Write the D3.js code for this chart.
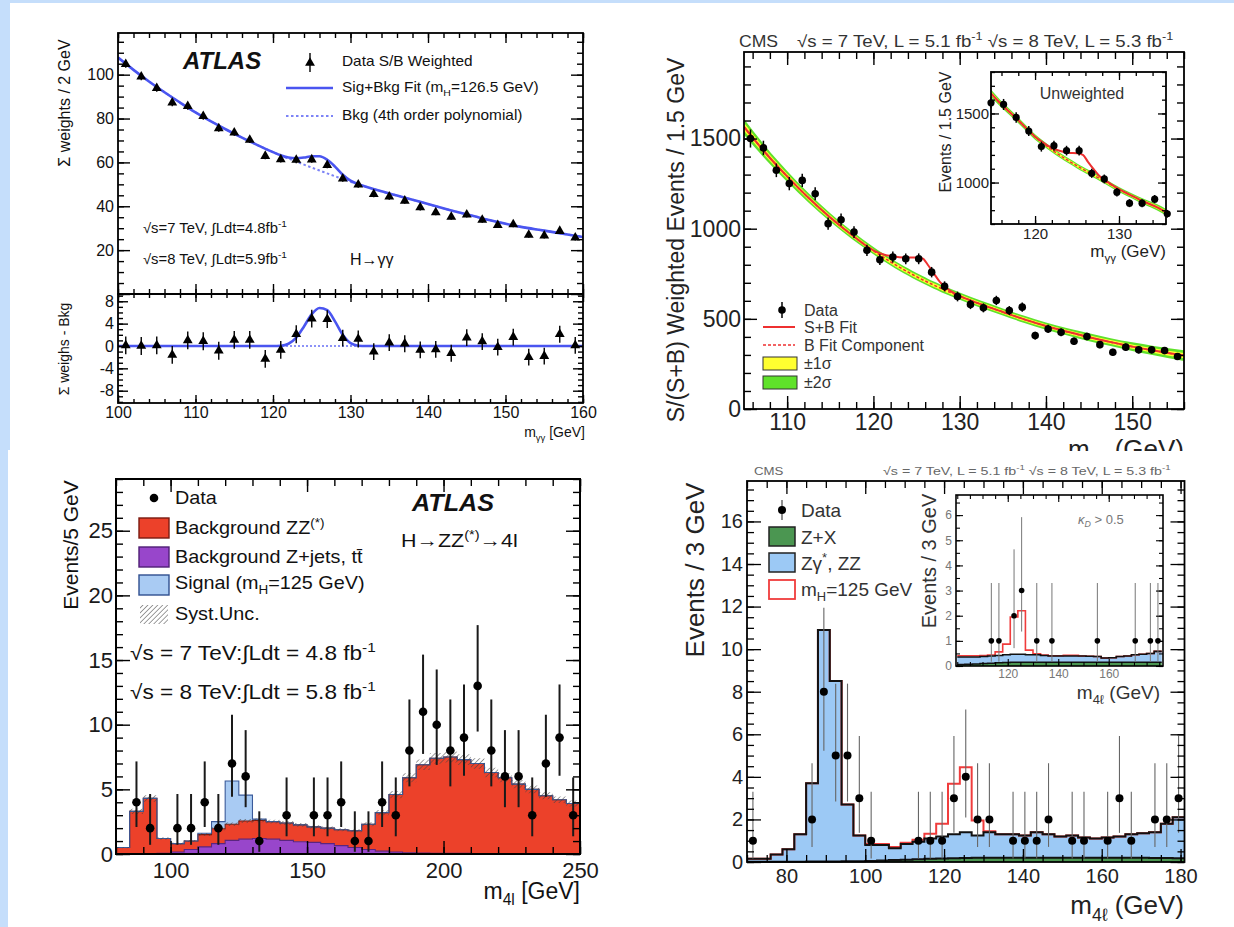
<!DOCTYPE html>
<html><head><meta charset="utf-8">
<script src="https://cdn.jsdelivr.net/npm/d3@7"></script>
<style>html,body{margin:0;padding:0;background:#c5defb;} svg{display:block;}</style>
</head><body><svg id="c" width="1234" height="927"></svg>
<script>
// ---------------- Panel A: ATLAS H->gamma gamma (weighted) ----------------
const aMass = [101,103,105,107,109,111,113,115,117,119,121,123,125,127,129,131,133,135,137,139,141,143,145,147,149,151,153,155,157,159];
const aWeights = [104.8,99.1,93.8,87.2,85.6,81.1,75.5,73.6,70.3,62.9,61.4,61.1,61.3,58.7,52.6,49.8,45.5,44.4,42.5,39.5,37.2,35.1,36.2,33.8,31.4,31.7,26.9,26.6,28.7,25.7];
const aErr = [1.7,1.7,1.6,1.6,1.6,1.6,1.5,1.5,1.5,1.5,1.5,1.5,1.5,1.4,1.4,1.4,1.4,1.4,1.4,1.4,1.3,1.3,1.3,1.3,1.3,1.3,1.3,1.3,1.3,1.3];
const aCurveX = [100,102,104,106,108,110,112,114,116,118,120,121,122,123,124,125,126,127,128,129,130,131,132,134,136,138,140,143,146,149,152,155,158,160];
const aBkg = [107.8,102.2,96.9,92.0,87.3,82.8,78.7,74.9,71.3,67.9,64.7,63.2,61.8,60.4,59.0,57.6,56.3,55.0,53.7,52.4,51.2,50.0,48.9,46.8,44.9,43.0,41.0,38.1,35.4,32.8,30.6,28.9,27.1,26.0];
const aSigBkg = [107.8,102.2,96.9,92.0,87.3,82.8,78.7,74.9,71.3,67.9,64.7,63.25,62.2,61.9,62.2,62.8,62.8,61.2,58.1,54.4,51.7,50.05,48.9,46.8,44.9,43.0,41.0,38.1,35.4,32.8,30.6,28.9,27.1,26.0];
const aResid = [0.1,0,0.1,-1.6,1.0,0.85,-0.85,1.1,1.1,-2.3,-0.7,2.1,4.9,4.8,1.4,1.25,-1.0,0.6,0.4,-0.7,-0.6,-1.3,1.5,0.8,-0.2,1.6,-2.0,-1.8,2.1,0.1];
const aResErr = [1.6,1.6,1.6,1.6,1.6,1.6,1.6,1.6,1.6,1.6,1.6,1.6,1.6,1.6,1.5,1.5,1.5,1.5,1.5,1.5,1.5,1.5,1.5,1.5,1.5,1.5,1.5,1.5,1.5,1.5];
const aResFitX = [100,120,121,122,123,124,125,126,127,128,129,130,131,132,160];
const aResFit = [0,0,0.05,0.4,1.5,3.5,5.7,6.8,6.4,4.4,2.0,0.5,0.05,0,0];
const aYLabels = [20,40,60,80,100];
const aXLabels = [100,110,120,130,140,150,160];
const aResLabels = [-8,-4,0,4,8];

// ---------------- Panel B: CMS H->gamma gamma (S/(S+B) weighted) ----------------
const bMass = [105.75,107.25,108.75,110.25,111.75,113.25,114.75,116.25,117.75,119.25,120.75,122.25,123.75,125.25,126.75,128.25,129.75,131.25,132.75,134.25,135.75,137.25,138.75,140.25,141.75,143.25,144.75,146.25,147.75,149.25,150.75,152.25,153.75,155.25];
const bEvents = [1500,1448,1324,1250,1268,1194,1028,1050,981,880,828,843,833,833,759,680,624,580,561,602,546,565,407,444,426,376,402,357,315,343,328,328,324,291];
const bErr = [50,40,38,37,37,36,34,34,33,31,30,31,30,30,29,28,27,26,25,26,25,25,22,23,22,21,21,20,19,20,19,19,19,18];
const bCurveX = [105,107.5,110,112.5,115,117.5,120,121,122,123,124,125,125.7,126.3,127,127.7,128.3,129,130,132.5,135,137.5,140,142.5,145,147.5,150,152.5,156];
const bBkg = [1565,1420,1290,1170,1062,965,878,846,816,787,760,734,717,703,687,672,659,645,626,580,538,497,460,428,398,371,346,324,296];
const bSB = [1565,1420,1290,1170,1062,965,880,860,848,842,840,840,835,800,752,705,678,652,627,580,538,497,460,428,398,371,346,324,296];
const bBand1 = [22,18,15,13,12,11,10,10,10,10,10,10,10,10,10,10,10,10,10,10,10,10,10,10,11,11,12,13,15];
const bBand2 = [44,36,30,26,24,22,20,20,20,20,20,20,20,20,20,20,20,20,20,20,20,20,20,20,22,22,24,26,30];
const bYLabels = [0,500,1000,1500];
const bXLabels = [110,120,130,140,150];
const biMass = [114.75,116.25,117.75,119.25,120.75,122.25,123.75,125.25,126.75,128.25,129.75,131.25,132.75,134.25,135.75];
const biEvents = [1577,1565,1471,1373,1260,1267,1231,1231,1067,1026,930,851,851,880,774];
const biErr = [40,40,38,37,36,36,35,35,33,32,31,29,29,30,28];
const biCurveX = [114.75,116,117.5,119,120,121,122,123,124,125,125.7,126.3,127,127.7,128.5,130,131.5,133,134.5,135.6];
const biBkg = [1645,1565,1480,1390,1330,1282,1237,1195,1157,1120,1096,1076,1052,1029,1002,950,905,861,822,785];
const biSB = [1645,1565,1480,1390,1332,1288,1250,1228,1216,1212,1200,1150,1095,1045,1010,952,905,861,822,785];
const biBand1 = [14,12,11,10,10,9,9,9,9,9,9,9,9,9,9,9,9,10,11,12];
const biBand2 = [28,24,22,20,20,18,18,18,18,18,18,18,18,18,18,18,18,20,22,24];
const biYLabels = [1000,1500];
const biXLabels = [120,130];

// ---------------- Panel C: ATLAS H->ZZ->4l ----------------
const cBinLo = [80,85,90,95,100,105,110,115,120,125,130,135,140,145,150,155,160,165,170,175,180,185,190,195,200,205,210,215,220,225,230,235,240,245];
const cZjets = [0.02,0.02,0.02,0.05,0.15,0.35,0.55,0.8,1.05,1.15,1.2,1.15,1.05,0.95,0.9,0.8,0.65,0.5,0.35,0.22,0.15,0.1,0.07,0.06,0.05,0.05,0.04,0.04,0.03,0.03,0.03,0.02,0.02,0.02];
const cZZ = [0.48,3.28,4.28,1.15,0.65,0.65,0.95,1.15,1.25,1.4,1.4,1.35,1.35,1.3,1.2,1.2,1.22,1.3,1.95,2.98,4.45,5.8,6.83,7.34,7.45,7.25,6.96,6.26,5.87,5.37,4.97,4.48,4.18,3.88];
const cSignal = [0,0,0,0,0,0,0.1,0.55,3.35,2.0,0.1,0,0,0,0,0,0,0,0,0,0,0,0,0,0,0,0,0,0,0,0,0,0,0];
const cUnc = [0.05,0.2,0.25,0.1,0.08,0.08,0.1,0.12,0.14,0.15,0.15,0.15,0.15,0.14,0.13,0.13,0.12,0.12,0.15,0.2,0.28,0.35,0.4,0.42,0.43,0.42,0.4,0.37,0.35,0.32,0.3,0.27,0.25,0.23];
const cDataX = [87.5,92.5,102.5,107.5,112.5,117.5,122.5,127.5,132.5,142.5,152.5,157.5,162.5,167.5,172.5,177.5,182.5,187.5,192.5,197.5,202.5,207.5,212.5,217.5,222.5,227.5,232.5,237.5,242.5,247.5];
const cDataN = [4,2,2,2,4,2,7,6,1,3,3,3,4,1,1,4,3,8,11,10,8,9,13,8,6,6,3,7,9,3];
const cErrLo = [2.09,0.71,0.71,0.71,2.09,0.71,4.42,3.62,0.17,1.37,1.37,1.37,2.09,0.17,0.17,2.09,1.37,5.23,7.74,6.89,5.23,6.05,9.47,5.23,3.62,3.62,1.37,4.42,6.05,1.37];
const cErrHi = [7.16,4.64,4.64,4.64,7.16,4.64,10.77,9.58,3.30,5.92,5.92,5.92,7.16,3.30,3.30,7.16,5.92,11.95,15.42,14.27,11.95,13.11,17.70,11.95,9.58,9.58,5.92,10.77,13.11,5.92];
const cYLabels = [0,5,10,15,20,25];
const cXLabels = [100,150,200,250];

// ---------------- Panel D: CMS H->ZZ->4l ----------------
const dBinLo = [70,73,76,79,82,85,88,91,94,97,100,103,106,109,112,115,118,121,124,127,130,133,136,139,142,145,148,151,154,157,160,163,166,169,172,175,178];
const dZX = [0.01,0.01,0.01,0.01,0.01,0.02,0.02,0.02,0.03,0.04,0.05,0.07,0.09,0.11,0.13,0.15,0.17,0.18,0.19,0.2,0.2,0.2,0.2,0.2,0.2,0.2,0.2,0.2,0.2,0.2,0.2,0.2,0.2,0.2,0.19,0.19,0.18];
const dZZ = [0.14,0.14,0.34,0.59,1.29,3.68,10.88,8.48,2.67,1.21,0.75,0.73,0.56,0.74,0.82,0.95,1.03,1.12,1.21,1.05,1.2,1.1,1.1,1.05,1.2,1.1,1.0,1.05,0.95,0.9,0.95,1.0,1.1,1.15,1.21,1.61,1.92];
const dSig = [0,0,0,0,0,0,0,0,0,0,0.05,0.05,0.05,0.05,0.1,0.23,0.6,2.38,3.05,0.7,0.05,0,0,0,0,0,0,0,0,0,0,0,0,0,0,0,0];
const dDataX = [71.5,86.5,89.5,92.5,95.5,98.5,101.5,113.5,116.5,119.5,122.5,125.5,128.5,131.5,137.5,140.5,143.5,146.5,152.5,155.5,161.5,164.5,167.5,173.5,176.5,179.5];
const dDataN = [1,2,8,5,5,3,1,1,1,1,3,4,2,2,1,1,1,2,1,1,1,3,1,2,2,3];
const dErrLo = [0.17,0.71,5.23,2.84,2.84,1.37,0.17,0.17,0.17,0.17,1.37,2.09,0.71,0.71,0.17,0.17,0.17,0.71,0.17,0.17,0.17,1.37,0.17,0.71,0.71,1.37];
const dErrHi = [3.30,4.64,11.95,8.38,8.38,5.92,3.30,3.30,3.30,3.30,5.92,7.16,4.64,4.64,3.30,3.30,3.30,4.64,3.30,3.30,3.30,5.92,3.30,4.64,4.64,5.92];
const dYLabels = [0,2,4,6,8,10,12,14,16];
const dXLabels = [80,100,120,140,160,180];
const diBinLo = [100,103,106,109,112,115,118,121,124,127,130,133,136,139,142,145,148,151,154,157,160,163,166,169,172,175,178];
const diZX = [0.06,0.07,0.08,0.1,0.11,0.13,0.14,0.15,0.15,0.15,0.15,0.15,0.15,0.15,0.15,0.15,0.15,0.15,0.15,0.15,0.15,0.15,0.15,0.15,0.15,0.15,0.15];
const diZZ = [0.30,0.29,0.28,0.28,0.29,0.29,0.31,0.32,0.32,0.30,0.30,0.27,0.25,0.25,0.25,0.25,0.25,0.24,0.23,0.17,0.18,0.23,0.25,0.30,0.32,0.35,0.43];
const diSig = [0.05,0.05,0.05,0.04,0.04,0.14,0.42,1.48,1.73,0.18,0.04,0.02,0.01,0.01,0.03,0.03,0,0,0,0,0,0,0,0,0,0,0];
const diDataX = [113.5,116.5,122.5,125.5,131.5,137.5,155.5,170.5,176.5,179.5];
const diDataN = [1,1,2,3,1,1,1,1,1,1];
const diErrLo = [0.17,0.17,0.71,1.37,0.17,0.17,0.17,0.17,0.17,0.17];
const diErrHi = [3.30,3.30,4.64,5.92,3.30,3.30,3.30,3.30,3.30,3.30];
const diYLabels = [0,1,2,3,4,5,6];
const diXLabels = [120,140,160];

// =====================================================================
const FONT = "'Liberation Sans', Arial, Helvetica, sans-serif";
const svg = d3.select('#c');
svg.append('rect').attr('width',1234).attr('height',927).attr('fill','#c5defb');
svg.append('rect').attr('x',10).attr('y',3).attr('width',1224).attr('height',450).attr('fill','#fff');
svg.append('rect').attr('x',8).attr('y',450).attr('width',1226).attr('height',477).attr('fill','#fff');
const defs = svg.append('defs');
const hatch = defs.append('pattern').attr('id','hatch').attr('width',3.5).attr('height',3.5)
  .attr('patternUnits','userSpaceOnUse').attr('patternTransform','rotate(45)');
hatch.append('line').attr('x1',0).attr('y1',0).attr('x2',0).attr('y2',3.5).attr('stroke','#444').attr('stroke-width',1.3);
function clip(id, x, y, w, h) { defs.append('clipPath').attr('id', id).append('rect').attr('x',x).attr('y',y).attr('width',w).attr('height',h); return `url(#${id})`; }

function txt(g, x, y, parts, o = {}) {
  const fs = o.fs || 14;
  const t = g.append('text').attr('x', x).attr('y', y + 0.35 * fs)
    .attr('font-family', FONT).attr('font-size', fs).attr('fill', o.fill || '#111')
    .attr('text-anchor', o.anchor || 'start');
  if (o.weight) t.attr('font-weight', o.weight);
  if (o.style) t.attr('font-style', o.style);
  if (o.rotate) t.attr('transform', `rotate(-90,${x},${y})`);
  else if (o.sx) t.attr('transform', `translate(${x},0) scale(${o.sx},1) translate(${-x},0)`);
  if (typeof parts === 'string') parts = [[parts, '']];
  let shift = 0;
  parts.forEach(([s, m, st]) => {
    const target = m === 'sub' ? 0.28 * fs : m === 'sup' ? -0.42 * fs : 0;
    const ts = t.append('tspan').text(s);
    if (target - shift !== 0) ts.attr('dy', target - shift);
    if (m) ts.attr('font-size', fs * 0.68);
    if (st) ts.attr('font-style', st);
    shift = target;
  });
  return t;
}

function ticks(g, x, y, o) {
  const [xa, xb] = x.range(), [ya, yb] = y.range();
  const mk = (axis, tr, vals, len, fmt, pad) => {
    const a = g.append('g').attr('transform', tr)
      .call(axis.tickValues(vals).tickSize(-len).tickPadding(pad || 3).tickFormat(fmt || (() => '')));
    a.select('.domain').remove();
    a.selectAll('line').attr('stroke', '#000').attr('stroke-width', o.tw || 1.2);
    a.attr('font-family', FONT).attr('font-size', o.fs || 12);
    a.selectAll('text').attr('fill', o.col || '#111');
    return a;
  };
  const xl = o.xLab ? (d => o.xLab.includes(d) ? d : '') : null;
  const yl = o.yLab ? (d => o.yLab.includes(d) ? d : '') : null;
  if (o.bottom !== false) {
    mk(d3.axisBottom(x), `translate(0,${ya})`, o.xMaj, o.xL, xl, o.xPad);
    mk(d3.axisBottom(x), `translate(0,${ya})`, o.xMin, o.xl);
  }
  if (o.top !== false) {
    mk(d3.axisTop(x), `translate(0,${yb})`, o.xMaj, o.xL);
    mk(d3.axisTop(x), `translate(0,${yb})`, o.xMin, o.xl);
  }
  mk(d3.axisLeft(y), `translate(${xa},0)`, o.yMaj, o.yL, yl, o.yPad);
  mk(d3.axisLeft(y), `translate(${xa},0)`, o.yMin, o.yl);
  if (o.right !== false) {
    mk(d3.axisRight(y), `translate(${xb},0)`, o.yMaj, o.yL);
    mk(d3.axisRight(y), `translate(${xb},0)`, o.yMin, o.yl);
  }
}
function frame(g, x, y, w) {
  const [xa, xb] = x.range(), [ya, yb] = y.range();
  g.append('rect').attr('x', xa).attr('y', yb).attr('width', xb - xa).attr('height', ya - yb)
    .attr('fill', 'none').attr('stroke', '#000').attr('stroke-width', w || 1.6);
}
function stepPts(lo, w, y0s, y1s) {
  const pts = lo.map((x, i) => ({ x, y0: y0s[i], y1: y1s[i] }));
  const L = pts[pts.length - 1];
  pts.push({ x: L.x + w, y0: L.y0, y1: L.y1 });
  return pts;
}

// ======================= PANEL A =======================
{
  const g = svg.append('g');
  const x = d3.scaleLinear().domain([100,160]).range([118,583]);
  const y = d3.scaleLinear().domain([0,119]).range([294,33]);
  const yr = d3.scaleLinear().domain([-10.2,9.3]).range([403,294]);
  const cA = clip('clipA', 118, 33, 465, 261), cAr = clip('clipAr', 118, 294, 465, 109);
  const line = d3.line().x(d => x(d[0])).y(d => y(d[1])).curve(d3.curveMonotoneX);
  const liner = d3.line().x(d => x(d[0])).y(d => yr(d[1])).curve(d3.curveMonotoneX);
  g.append('path').datum(d3.zip(aCurveX, aBkg)).attr('d', line).attr('fill','none')
    .attr('stroke','#7c83f6').attr('stroke-width',2).attr('stroke-dasharray','2.5,2.5').attr('clip-path', cA);
  g.append('path').datum(d3.zip(aCurveX, aSigBkg)).attr('d', line).attr('fill','none')
    .attr('stroke','#4a55f0').attr('stroke-width',2.6).attr('clip-path', cA);
  const tri = d3.symbol().type(d3.symbolTriangle).size(42)();
  aMass.forEach((m, i) => {
    g.append('line').attr('x1', x(m)).attr('x2', x(m)).attr('y1', y(aWeights[i] - aErr[i])).attr('y2', y(aWeights[i] + aErr[i]))
      .attr('stroke','#000').attr('stroke-width',1.4);
  });
  g.selectAll('path.tri').data(d3.zip(aMass, aWeights)).join('path').attr('class','tri').attr('d', tri)
    .attr('transform', d => `translate(${x(d[0])},${y(d[1])})`).attr('fill','#000');
  g.append('line').attr('x1', x(100)).attr('x2', x(160)).attr('y1', yr(0)).attr('y2', yr(0))
    .attr('stroke','#8c92f7').attr('stroke-width',2).attr('stroke-dasharray','2,2');
  g.append('path').datum(d3.zip(aResFitX, aResFit)).attr('d', liner).attr('fill','none')
    .attr('stroke','#4a55f0').attr('stroke-width',2.6).attr('clip-path', cAr);
  aMass.forEach((m, i) => {
    g.append('line').attr('x1', x(m)).attr('x2', x(m)).attr('y1', yr(aResid[i] - aResErr[i])).attr('y2', yr(aResid[i] + aResErr[i]))
      .attr('stroke','#000').attr('stroke-width',1.4);
  });
  g.selectAll('path.trir').data(d3.zip(aMass, aResid)).join('path').attr('class','trir').attr('d', tri)
    .attr('transform', d => `translate(${x(d[0])},${yr(d[1])})`).attr('fill','#000');
  frame(g, x, y, 1.8); frame(g, x, yr, 1.8);
  ticks(g, x, y, { xMaj: d3.range(100,161,10), xMin: d3.range(100,161,2), xL: 10, xl: 5, bottom: true,
    yMaj: d3.range(0,101,20), yMin: d3.range(0,119,5), yL: 12, yl: 6, yLab: aYLabels, yPad: 4, fs: 16, tw: 1.4 });
  ticks(g, x, yr, { xMaj: d3.range(100,161,10), xMin: d3.range(100,161,2), xL: 8, xl: 4, xLab: aXLabels, xPad: 4,
    yMaj: d3.range(-8,9,4), yMin: d3.range(-10,9.3,1), yL: 10, yl: 5, yLab: aResLabels, yPad: 4, fs: 16, tw: 1.4 });
  txt(g, 64, 103, 'Σ weights / 2 GeV', { fs: 16, rotate: true, anchor: 'middle' });
  txt(g, 64, 349, 'Σ weighs - Bkg', { fs: 14, rotate: true, anchor: 'middle' });
  txt(g, 585, 432, [['m',''],['γγ','sub'],[' [GeV]','']], { fs: 14, anchor: 'end' });
  txt(g, 183, 61, 'ATLAS', { fs: 24, weight: 'bold', style: 'italic' });
  g.append('line').attr('x1',310).attr('x2',310).attr('y1',53).attr('y2',72).attr('stroke','#000').attr('stroke-width',1.4);
  g.append('path').attr('d', tri).attr('transform','translate(310,63)').attr('fill','#000');
  txt(g, 342, 61, 'Data S/B Weighted', { fs: 14, sx: 1.1 });
  g.append('line').attr('x1',286).attr('x2',333).attr('y1',88).attr('y2',88).attr('stroke','#4a55f0').attr('stroke-width',2.6);
  txt(g, 342, 87, [['Sig+Bkg Fit  (m',''],['H','sub'],['=126.5 GeV)','']], { fs: 14, sx: 1.1 });
  g.append('line').attr('x1',286).attr('x2',333).attr('y1',116).attr('y2',116).attr('stroke','#7c83f6').attr('stroke-width',2).attr('stroke-dasharray','2.5,2.5');
  txt(g, 342, 115, 'Bkg (4th order polynomial)', { fs: 14, sx: 1.1 });
  txt(g, 143, 228, [['√s=7 TeV, ∫Ldt=4.8fb',''],['-1','sup']], { fs: 14, sx: 1.06 });
  txt(g, 143, 259, [['√s=8 TeV, ∫Ldt=5.9fb',''],['-1','sup']], { fs: 14, sx: 1.06 });
  txt(g, 350, 259, 'H→γγ', { fs: 16 });
}

// ======================= PANEL B =======================
{
  const g = svg.append('g');
  const x = d3.scaleLinear().domain([105,156]).range([744,1184]);
  const y = d3.scaleLinear().domain([0,1980]).range([409,52]);
  const cB = clip('clipB', 744, 52, 440, 357);
  const area = d3.area().x((d) => x(d[0])).y0(d => y(d[1] - d[2])).y1(d => y(d[1] + d[2])).curve(d3.curveMonotoneX);
  const line = d3.line().x(d => x(d[0])).y(d => y(d[1])).curve(d3.curveMonotoneX);
  g.append('path').datum(d3.zip(bCurveX, bBkg, bBand2)).attr('d', area).attr('fill','#5fe22a').attr('clip-path', cB);
  g.append('path').datum(d3.zip(bCurveX, bBkg, bBand1)).attr('d', area).attr('fill','#ffff30').attr('clip-path', cB);
  g.append('path').datum(d3.zip(bCurveX, bBkg)).attr('d', line).attr('fill','none').attr('stroke','#ee3030')
    .attr('stroke-width',1.6).attr('stroke-dasharray','3,2').attr('clip-path', cB);
  g.append('path').datum(d3.zip(bCurveX, bSB)).attr('d', line).attr('fill','none').attr('stroke','#ee3030')
    .attr('stroke-width',2).attr('clip-path', cB);
  bMass.forEach((m, i) => {
    g.append('line').attr('x1', x(m)).attr('x2', x(m)).attr('y1', y(bEvents[i] - bErr[i])).attr('y2', y(bEvents[i] + bErr[i]))
      .attr('stroke','#000').attr('stroke-width',1.5);
    g.append('circle').attr('cx', x(m)).attr('cy', y(bEvents[i])).attr('r', 3.8).attr('fill','#000');
  });
  frame(g, x, y, 1.8);
  ticks(g, x, y, { xMaj: bXLabels, xMin: d3.range(106,157,2), xL: 13, xl: 7, xLab: bXLabels, xPad: 5,
    yMaj: d3.range(0,1981,500), yMin: d3.range(0,1981,100), yL: 13, yl: 7, yLab: bYLabels, yPad: 3, fs: 23, tw: 1.4, col: '#222' });
  txt(g, 739, 41, 'CMS', { fs: 16, fill: '#333', sx: 1.1 });
  txt(g, 797, 41, [['√s = 7 TeV, L = 5.1 fb',''],['-1','sup'],[' ',''],['√s = 8 TeV, L = 5.3 fb',''],['-1','sup']], { fs: 16.5, fill: '#333', sx: 1.13 });
  txt(g, 676, 240, 'S/(S+B) Weighted Events / 1.5 GeV', { fs: 23, rotate: true, anchor: 'middle', fill: '#222' });
  const cT = clip('clipBT', 600, 436, 634, 15);
  txt(g, 1184, 449, [['m',''],['γγ','sub'],[' (GeV)','']], { fs: 26, anchor: 'end', fill: '#222' }).attr('clip-path', cT);
  g.append('line').attr('x1',782).attr('x2',782).attr('y1',302).attr('y2',318).attr('stroke','#000').attr('stroke-width',1.5);
  g.append('circle').attr('cx',782).attr('cy',310).attr('r',3.8).attr('fill','#000');
  txt(g, 804, 310, 'Data', { fs: 16, fill: '#333' });
  g.append('line').attr('x1',763).attr('x2',795).attr('y1',327).attr('y2',327).attr('stroke','#ee3030').attr('stroke-width',2);
  txt(g, 804, 327, 'S+B Fit', { fs: 16, fill: '#333' });
  g.append('line').attr('x1',763).attr('x2',795).attr('y1',345).attr('y2',345).attr('stroke','#ee3030').attr('stroke-width',1.6).attr('stroke-dasharray','3,2');
  txt(g, 804, 345, 'B Fit Component', { fs: 16, fill: '#333' });
  g.append('rect').attr('x',763).attr('y',357).attr('width',34).attr('height',13).attr('fill','#ffff30').attr('stroke','#333').attr('stroke-width',1);
  txt(g, 804, 363, '±1σ', { fs: 16, fill: '#333' });
  g.append('rect').attr('x',763).attr('y',376).attr('width',34).attr('height',13).attr('fill','#5fe22a').attr('stroke','#333').attr('stroke-width',1);
  txt(g, 804, 382, '±2σ', { fs: 16, fill: '#333' });
  // inset
  const xi = d3.scaleLinear().domain([114.75,135.6]).range([991,1166]);
  const yi = d3.scaleLinear().domain([700,1800]).range([224,72]);
  g.append('rect').attr('x',991).attr('y',72).attr('width',175).attr('height',152).attr('fill','#fff');
  const cBi = clip('clipBi', 991, 72, 175, 152);
  const areai = d3.area().x(d => xi(d[0])).y0(d => yi(d[1] - d[2])).y1(d => yi(d[1] + d[2])).curve(d3.curveMonotoneX);
  const linei = d3.line().x(d => xi(d[0])).y(d => yi(d[1])).curve(d3.curveMonotoneX);
  g.append('path').datum(d3.zip(biCurveX, biBkg, biBand2)).attr('d', areai).attr('fill','#5fe22a').attr('clip-path', cBi);
  g.append('path').datum(d3.zip(biCurveX, biBkg, biBand1)).attr('d', areai).attr('fill','#ffff30').attr('clip-path', cBi);
  g.append('path').datum(d3.zip(biCurveX, biBkg)).attr('d', linei).attr('fill','none').attr('stroke','#ee3030')
    .attr('stroke-width',1.4).attr('stroke-dasharray','3,2').attr('clip-path', cBi);
  g.append('path').datum(d3.zip(biCurveX, biSB)).attr('d', linei).attr('fill','none').attr('stroke','#ee3030')
    .attr('stroke-width',2).attr('clip-path', cBi);
  biMass.forEach((m, i) => {
    g.append('line').attr('x1', xi(m)).attr('x2', xi(m)).attr('y1', yi(biEvents[i] - biErr[i])).attr('y2', yi(biEvents[i] + biErr[i]))
      .attr('stroke','#000').attr('stroke-width',1.5);
    g.append('circle').attr('cx', xi(m)).attr('cy', yi(biEvents[i])).attr('r', 3.6).attr('fill','#000');
  });
  frame(g, xi, yi, 1.8);
  ticks(g, xi, yi, { xMaj: biXLabels, xMin: d3.range(116,136,2), xL: 8, xl: 4, xLab: biXLabels, xPad: 4,
    yMaj: biYLabels, yMin: d3.range(700,1801,100), yL: 8, yl: 4, yLab: biYLabels, yPad: 2, fs: 15, tw: 1.3, col: '#222' });
  txt(g, 945, 132, 'Events / 1.5 GeV', { fs: 16, rotate: true, anchor: 'middle', fill: '#222' });
  txt(g, 1082, 93, 'Unweighted', { fs: 16, anchor: 'middle', fill: '#333' });
  txt(g, 1166, 251, [['m',''],['γγ','sub'],[' (GeV)','']], { fs: 17, anchor: 'end', fill: '#222' });
}

// ======================= PANEL C =======================
{
  const g = svg.append('g');
  const x = d3.scaleLinear().domain([80,250]).range([116,580]);
  const y = d3.scaleLinear().domain([0,29]).range([854,479]);
  const rows = cBinLo.map((lo, i) => ({ zjets: cZjets[i], zz: cZZ[i], sig: cSignal[i] }));
  const stack = d3.stack().keys(['zjets','zz','sig'])(rows);
  const area = d3.area().x(d => x(d.x)).y0(d => y(d.y0)).y1(d => y(d.y1)).curve(d3.curveStepAfter);
  const line = d3.line().x(d => x(d.x)).y(d => y(d.y1)).curve(d3.curveStepAfter);
  const fills = { zjets: '#9846cb', zz: '#ec412a', sig: '#a9cbf3' };
  const strokes = { zjets: '#5a2580', zz: '#7a1a10', sig: '#3a5a9a' };
  stack.forEach(layer => {
    const pts = stepPts(cBinLo, 5, layer.map(d => d[0]), layer.map(d => d[1]));
    g.append('path').datum(pts).attr('d', area).attr('fill', fills[layer.key]);
  });
  stack.forEach(layer => {
    const pts = stepPts(cBinLo, 5, layer.map(d => d[0]), layer.map(d => d[1]));
    g.append('path').datum(pts).attr('d', line).attr('fill','none').attr('stroke', strokes[layer.key]).attr('stroke-width',1.1);
  });
  const tot = rows.map(r => r.zjets + r.zz);
  const band = stepPts(cBinLo, 5, tot.map((t, i) => t - cUnc[i]), tot.map((t, i) => t + cUnc[i]));
  g.append('path').datum(band).attr('d', area).attr('fill','url(#hatch)').attr('opacity',0.8);
  cDataX.forEach((m, i) => {
    g.append('line').attr('x1', x(m)).attr('x2', x(m)).attr('y1', y(cErrLo[i])).attr('y2', y(Math.min(cErrHi[i], 29)))
      .attr('stroke','#1a1a1a').attr('stroke-width',2);
  });
  cDataX.forEach((m, i) => {
    g.append('circle').attr('cx', x(m)).attr('cy', y(cDataN[i])).attr('r', 4.3).attr('fill','#000');
  });
  frame(g, x, y, 2);
  ticks(g, x, y, { xMaj: cXLabels, xMin: d3.range(80,251,10), xL: 13, xl: 7, xLab: cXLabels, xPad: 8,
    yMaj: cYLabels, yMin: d3.range(0,29.1,1), yL: 14, yl: 7, yLab: cYLabels, yPad: 3, fs: 22, tw: 1.4, col: '#1a1a1a' });
  txt(g, 71, 545, 'Events/5 GeV', { fs: 21, rotate: true, anchor: 'middle' });
  txt(g, 580, 891, [['m',''],['4l','sub'],[' [GeV]','']], { fs: 23, anchor: 'end' });
  txt(g, 412, 503, 'ATLAS', { fs: 24, weight: 'bold', style: 'italic', sx: 1.05 });
  txt(g, 401, 540, [['H→ZZ',''],['(*)','sup'],['→4l','']], { fs: 19, sx: 1.13 });
  txt(g, 130, 653, [['√s = 7 TeV:∫Ldt = 4.8 fb',''],['-1','sup']], { fs: 20, sx: 1.13 });
  txt(g, 130, 692, [['√s = 8 TeV:∫Ldt = 5.8 fb',''],['-1','sup']], { fs: 20, sx: 1.13 });
  g.append('circle').attr('cx',154).attr('cy',498).attr('r',4.3).attr('fill','#000');
  txt(g, 175, 498, 'Data', { fs: 18, sx: 1.1 });
  g.append('rect').attr('x',139).attr('y',518).attr('width',30).attr('height',20).attr('fill','#ec412a').attr('stroke','#7a1a10').attr('stroke-width',1.4);
  txt(g, 175, 528, [['Background ZZ',''],['(*)','sup']], { fs: 18, sx: 1.1 });
  g.append('rect').attr('x',139).attr('y',547).attr('width',30).attr('height',20).attr('fill','#9846cb').attr('stroke','#4f1f75').attr('stroke-width',1.4);
  txt(g, 175, 557, 'Background Z+jets, tt̄', { fs: 18, sx: 1.1 });
  g.append('rect').attr('x',139).attr('y',575).attr('width',30).attr('height',20).attr('fill','#a9cbf3').attr('stroke','#2f4f8f').attr('stroke-width',1.4);
  txt(g, 175, 583, [['Signal (m',''],['H','sub'],['=125 GeV)','']], { fs: 18, sx: 1.1 });
  g.append('rect').attr('x',140).attr('y',605).attr('width',28).attr('height',19).attr('fill','url(#hatch)').attr('opacity',0.8);
  txt(g, 175, 614, 'Syst.Unc.', { fs: 18, sx: 1.1 });
}

// ======================= PANEL D =======================
function cmsHist(g, x, y, lo, zx, zz, sig, w, lw) {
  const rows = lo.map((l, i) => ({ zx: zx[i], zz: zz[i], sig: sig[i] }));
  const st = d3.stack().keys(['zx','zz','sig'])(rows);
  const area = d3.area().x(d => x(d.x)).y0(d => y(d.y0)).y1(d => y(d.y1)).curve(d3.curveStepAfter);
  const line = d3.line().x(d => x(d.x)).y(d => y(d.y1)).curve(d3.curveStepAfter);
  const pts = st.map(layer => stepPts(lo, w, layer.map(d => d[0]), layer.map(d => d[1])));
  g.append('path').datum(pts[0]).attr('d', area).attr('fill','#4b9651');
  g.append('path').datum(pts[1]).attr('d', area).attr('fill','#9cc9f5');
  g.append('path').datum(pts[2]).attr('d', line).attr('fill','none').attr('stroke','#f03c3c').attr('stroke-width', lw);
  g.append('path').datum(pts[0]).attr('d', line).attr('fill','none').attr('stroke','#111').attr('stroke-width', lw);
  g.append('path').datum(pts[1]).attr('d', line).attr('fill','none').attr('stroke','#111').attr('stroke-width', lw);
}
{
  const g = svg.append('g');
  const x = d3.scaleLinear().domain([70,181]).range([747,1184.5]);
  const y = d3.scaleLinear().domain([0,17.9]).range([862,481]);
  cmsHist(g, x, y, dBinLo, dZX, dZZ, dSig, 3, 2);
  dDataX.forEach((m, i) => {
    g.append('line').attr('x1', x(m)).attr('x2', x(m)).attr('y1', y(dErrLo[i])).attr('y2', y(dErrHi[i]))
      .attr('stroke','#666').attr('stroke-width',1.1);
  });
  dDataX.forEach((m, i) => {
    g.append('circle').attr('cx', x(m)).attr('cy', y(dDataN[i])).attr('r', 4).attr('fill','#000');
  });
  frame(g, x, y, 1.8);
  ticks(g, x, y, { xMaj: dXLabels, xMin: d3.range(70,181,5), xL: 13, xl: 7, xLab: dXLabels, xPad: 7,
    yMaj: dYLabels, yMin: d3.range(0,17.9,0.5), yL: 14, yl: 7, yLab: dYLabels, yPad: 4, fs: 20, tw: 1.3, col: '#222' });
  txt(g, 695, 570, 'Events / 3 GeV', { fs: 26, rotate: true, anchor: 'middle', fill: '#222' });
  txt(g, 1184, 905, [['m',''],['4ℓ','sub'],[' (GeV)','']], { fs: 26, anchor: 'end', fill: '#222' });
  txt(g, 754, 471, 'CMS', { fs: 11.5, fill: '#666', sx: 1.15 });
  txt(g, 883, 471, [['√s = 7 TeV, L = 5.1 fb',''],['-1','sup'],['   √s = 8 TeV, L = 5.3 fb',''],['-1','sup']], { fs: 11.5, fill: '#666', sx: 1.24 });
  g.append('line').attr('x1',782).attr('x2',782).attr('y1',500).attr('y2',520).attr('stroke','#333').attr('stroke-width',1.1);
  g.append('circle').attr('cx',782).attr('cy',510).attr('r',4).attr('fill','#000');
  txt(g, 801, 510, 'Data', { fs: 19, fill: '#333' });
  g.append('rect').attr('x',769).attr('y',527).attr('width',26).attr('height',19).attr('fill','#4b9651').attr('stroke','#222').attr('stroke-width',1.5);
  txt(g, 801, 537, 'Z+X', { fs: 19, fill: '#333' });
  g.append('rect').attr('x',769).attr('y',553).attr('width',26).attr('height',19).attr('fill','#9cc9f5').attr('stroke','#222').attr('stroke-width',1.5);
  txt(g, 801, 563, [['Zγ',''],['*','sup'],[', ZZ','']], { fs: 19, fill: '#333' });
  g.append('rect').attr('x',769).attr('y',580).attr('width',26).attr('height',19).attr('fill','#fff').attr('stroke','#f03c3c').attr('stroke-width',1.8);
  txt(g, 801, 589, [['m',''],['H','sub'],['=125 GeV','']], { fs: 19, fill: '#333' });
  const xi = d3.scaleLinear().domain([99.5,181.5]).range([956,1163]);
  const yi = d3.scaleLinear().domain([0,6.8]).range([666,495]);
  g.append('rect').attr('x',956).attr('y',495).attr('width',207).attr('height',171).attr('fill','#fff');
  const gi = g.append('g').attr('clip-path', clip('clipDi', 956, 495, 207, 171));
  cmsHist(gi, xi, yi, diBinLo, diZX, diZZ, diSig, 3, 1.6);
  diDataX.forEach((m, i) => {
    gi.append('line').attr('x1', xi(m)).attr('x2', xi(m)).attr('y1', yi(diErrLo[i])).attr('y2', yi(diErrHi[i]))
      .attr('stroke','#777').attr('stroke-width',1);
    gi.append('circle').attr('cx', xi(m)).attr('cy', yi(diDataN[i])).attr('r', 2.8).attr('fill','#000');
  });
  frame(g, xi, yi, 1.6);
  ticks(g, xi, yi, { xMaj: diXLabels, xMin: d3.range(100,181,5), xL: 7, xl: 4, xLab: diXLabels, xPad: 3,
    yMaj: diYLabels, yMin: d3.range(0,6.8,0.5), yL: 7, yl: 4, yLab: diYLabels, yPad: 4, fs: 12, tw: 1.1, col: '#777' });
  txt(g, 929, 561, 'Events / 3 GeV', { fs: 20, rotate: true, anchor: 'middle', fill: '#333' });
  txt(g, 1160, 692, [['m',''],['4ℓ','sub'],[' (GeV)','']], { fs: 19, anchor: 'end', fill: '#333' });
  txt(g, 1078, 519, [['κ','','italic'],['D','sub','italic'],[' > 0.5','']], { fs: 13, fill: '#777' });
}
</script></body></html>
